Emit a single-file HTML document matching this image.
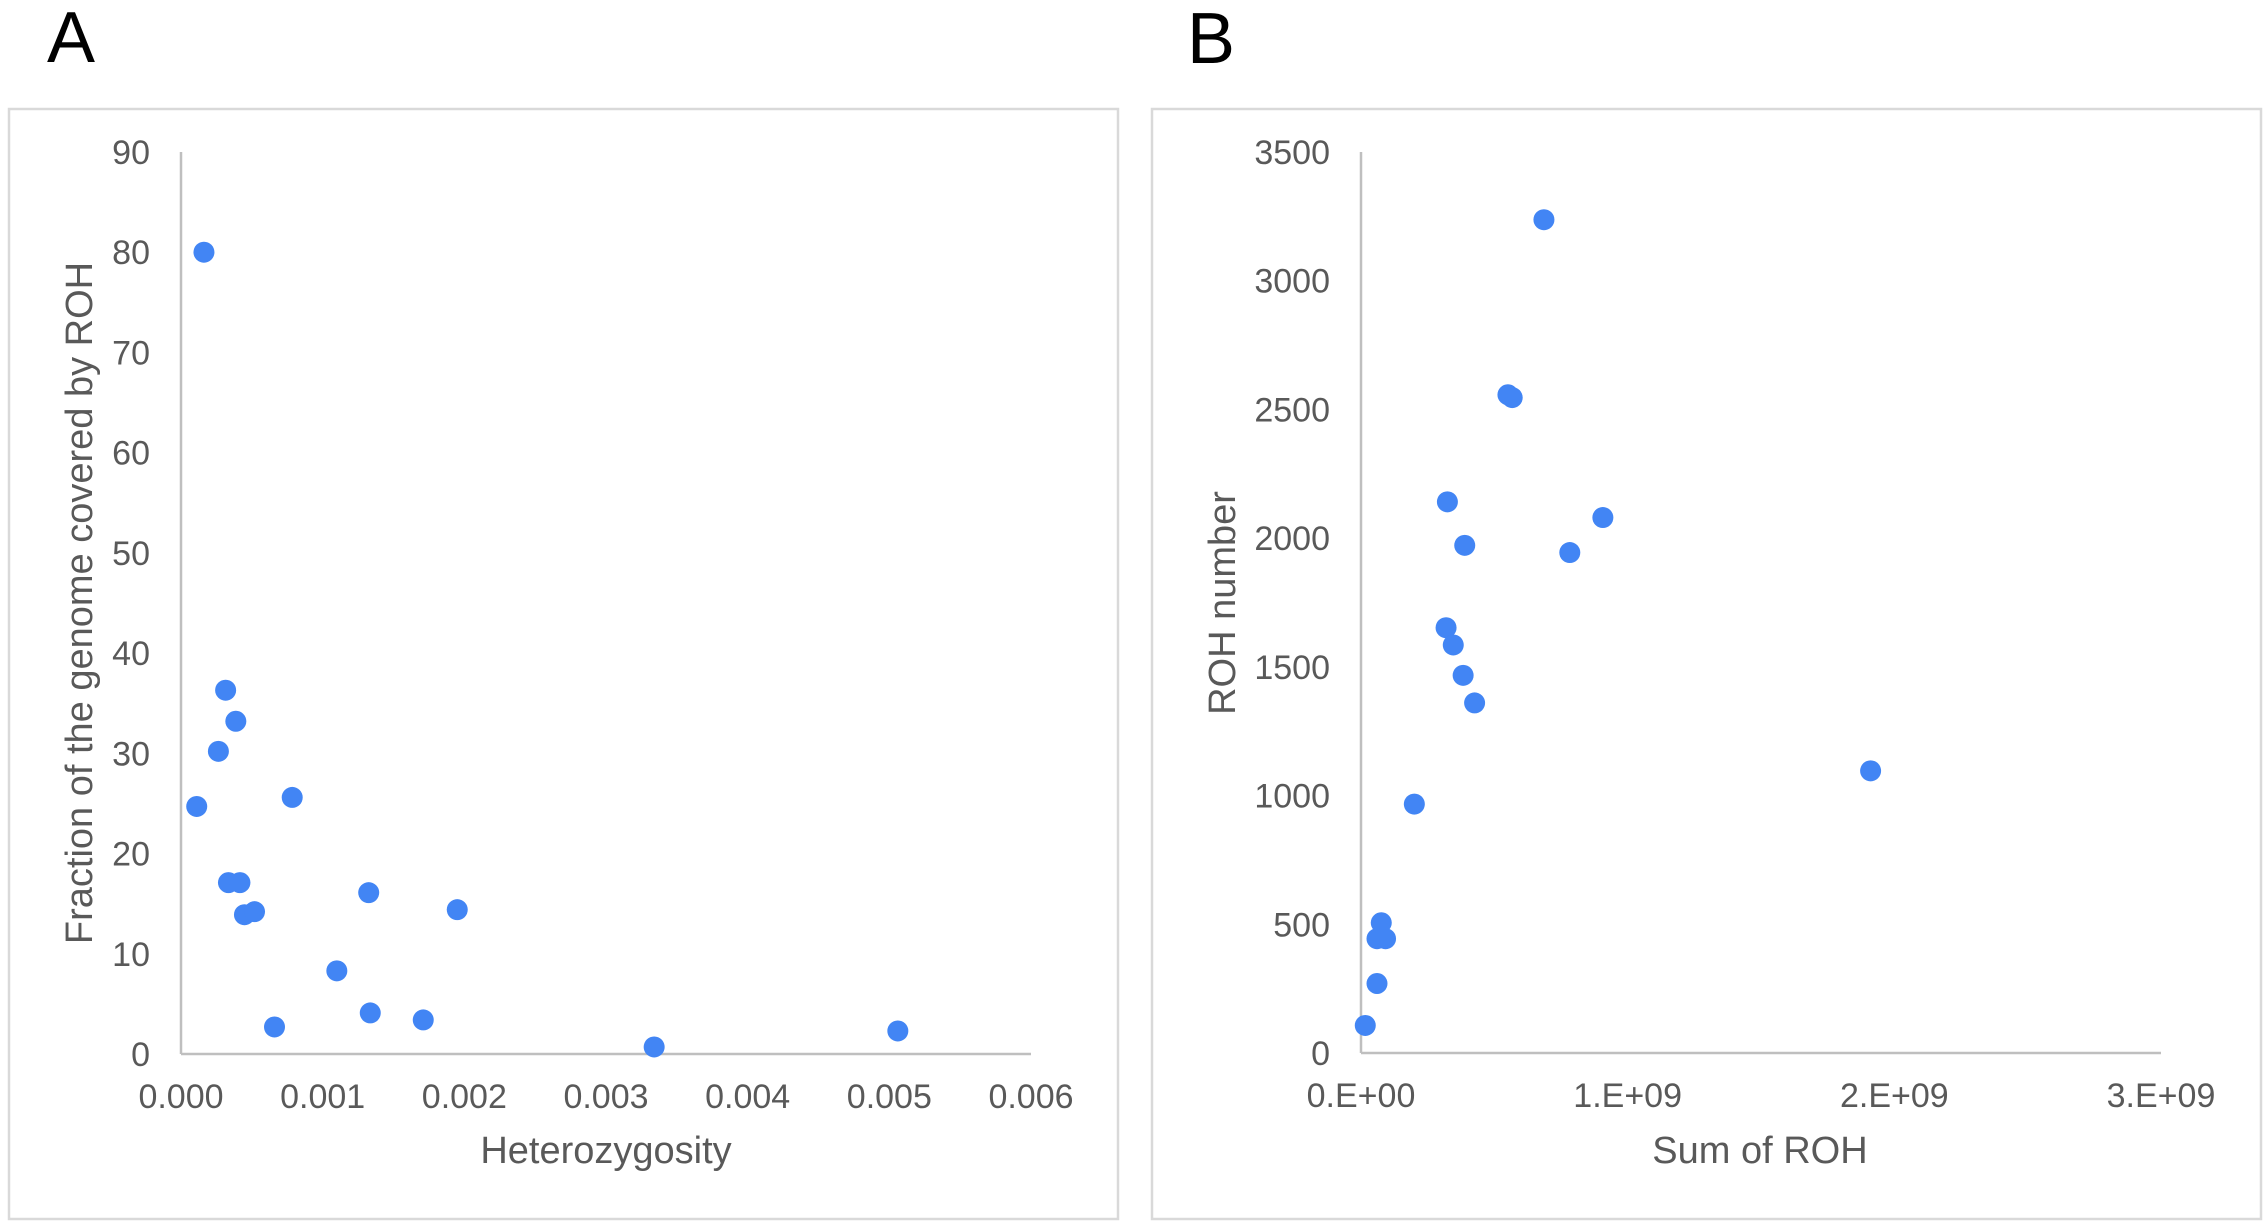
<!DOCTYPE html>
<html><head><meta charset="utf-8"><style>
html,body{margin:0;padding:0;background:#fff;}
svg{display:block;font-family:"Liberation Sans",Arial,sans-serif;}
</style></head><body>
<svg id="fig" width="2268" height="1228" viewBox="0 0 2268 1228">
<text x="47" y="62" font-size="72" fill="#000">A</text>
<text x="1187" y="63" font-size="72" fill="#000">B</text>
<rect x="9" y="109" width="1109" height="1110" fill="none" stroke="#d9d9d9" stroke-width="2.5"/>
<rect x="1152" y="109" width="1109" height="1110" fill="none" stroke="#d9d9d9" stroke-width="2.5"/>
<g id="chartA"></g>
<g id="chartB"></g>
</svg>
<script>
const hetValues=[0.000162,0.000315,0.000387,0.000264,0.000111,0.000785,0.000335,0.000416,0.000448,0.000519,0.001325,0.00195,0.0011,0.001336,0.00171,0.00066,0.00334,0.00506];
const fracValues=[80.0,36.3,33.2,30.2,24.7,25.6,17.1,17.1,13.9,14.2,16.1,14.4,8.3,4.1,3.4,2.7,0.7,2.3];
const aXTicks=[0,0.001,0.002,0.003,0.004,0.005,0.006];
const aXTickLabels=["0.000","0.001","0.002","0.003","0.004","0.005","0.006"];
const aYTicks=[0,10,20,30,40,50,60,70,80,90];
const sumRoh=[0.686e9,0.551e9,0.567e9,0.324e9,0.907e9,0.389e9,0.783e9,0.319e9,0.346e9,0.383e9,0.426e9,1.911e9,0.2e9,0.076e9,0.06e9,0.092e9,0.06e9,0.016e9];
const rohNumber=[3237,2557,2546,2141,2080,1972,1944,1652,1585,1467,1360,1096,967,506,444,444,270,107];
const bXTicks=[0,1e9,2e9,3e9];
const bXTickLabels=["0.E+00","1.E+09","2.E+09","3.E+09"];
const bYTicks=[0,500,1000,1500,2000,2500,3000,3500];

const NS="http://www.w3.org/2000/svg";
function mk(tag,attrs,parent,txt){const e=document.createElementNS(NS,tag);for(const k in attrs)e.setAttribute(k,attrs[k]);if(txt!==undefined)e.textContent=txt;parent.appendChild(e);return e;}

function drawChart(g,o){
  const sx=v=>o.x0+(v-o.xmin)/(o.xmax-o.xmin)*(o.x1-o.x0);
  const sy=v=>o.y0-(v-o.ymin)/(o.ymax-o.ymin)*(o.y0-o.y1);
  let e;
  e=mk('line',{x1:o.x0,y1:o.y1,x2:o.x0,y2:o.y0,stroke:'#bfbfbf','stroke-width':2.5},g);
  
  
  e=mk('line',{x1:o.x0,y1:o.y0,x2:o.x1,y2:o.y0,stroke:'#bfbfbf','stroke-width':2.5},g);
  
  
  o.yTicks.forEach(t=>{
    e=mk('text',{x:o.x0-31,y:sy(t)+12,'font-size':34,fill:'#595959','text-anchor':'end'},g,String(t));
    
    
  });
  o.xTicks.forEach((t,i)=>{
    e=mk('text',{x:sx(t),y:o.y0+54,'font-size':34,fill:'#595959','text-anchor':'middle'},g,o.xLabels[i]);
    
    
  });
  e=mk('text',{x:o.xtx,y:1163,'font-size':38,fill:'#595959','text-anchor':'middle'},g,o.xTitle);
  
  
  e=mk('text',{x:0,y:0,'font-size':38,fill:'#595959','text-anchor':'middle',transform:`translate(${o.ytx},603) rotate(-90)`},g,o.yTitle);
  
  
  o.xs.forEach((v,i)=>{
    e=mk('circle',{cx:sx(v),cy:sy(o.ys[i]),r:10.5,fill:'#4285f4'},g);
    
    
  });
}
drawChart(document.getElementById('chartA'),{x0:181,x1:1031,y0:1054,y1:152,xmin:0,xmax:0.006,ymin:0,ymax:90,
  xTicks:aXTicks,xLabels:aXTickLabels,yTicks:aYTicks,xs:hetValues,ys:fracValues,
  xTitle:'Heterozygosity',yTitle:'Fraction of the genome covered by ROH',xtx:606,ytx:92});
drawChart(document.getElementById('chartB'),{x0:1361,x1:2161,y0:1053,y1:152,xmin:0,xmax:3e9,ymin:0,ymax:3500,
  xTicks:bXTicks,xLabels:bXTickLabels,yTicks:bYTicks,xs:sumRoh,ys:rohNumber,
  xTitle:'Sum of ROH',yTitle:'ROH number',xtx:1760,ytx:1235});
</script>
</body></html>
